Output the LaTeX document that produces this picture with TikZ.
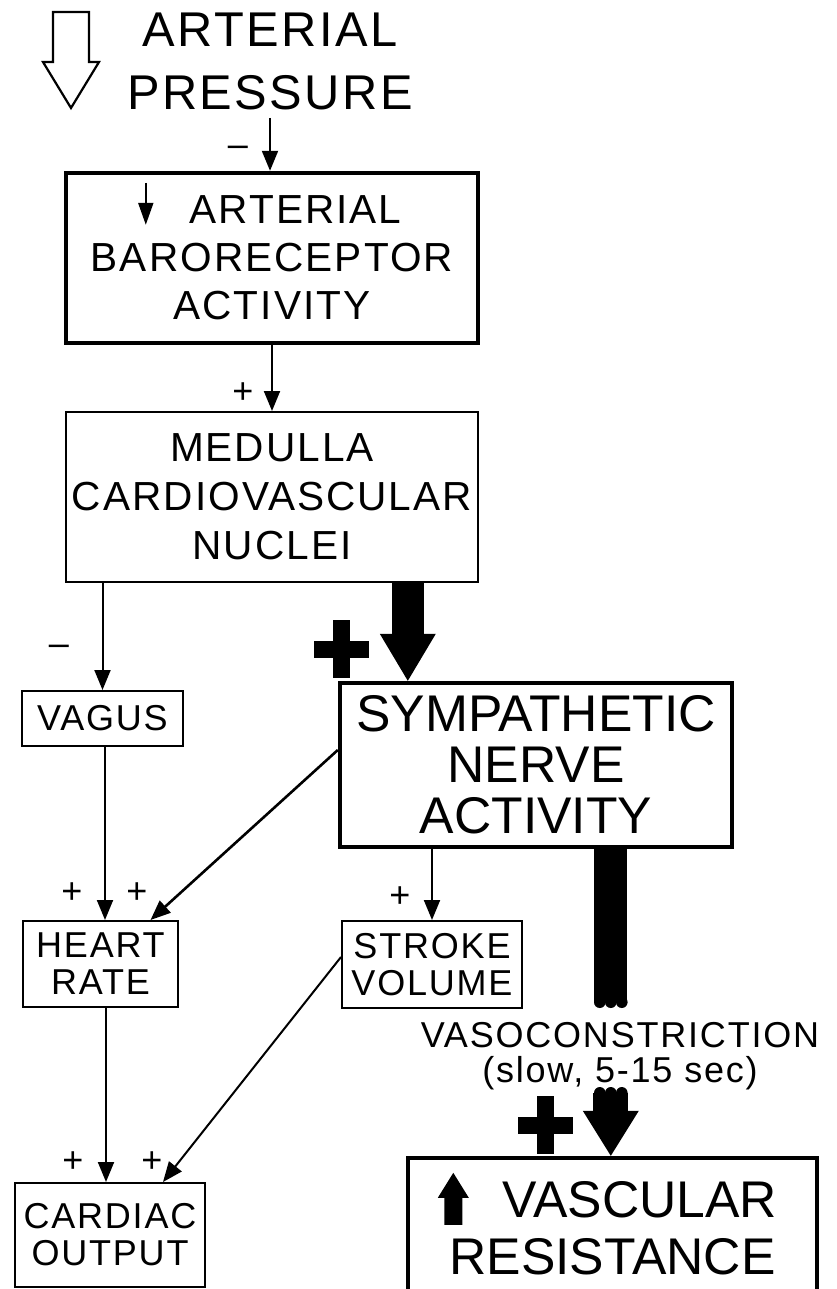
\documentclass[tikz,border=0pt]{standalone}
\usepackage{fontspec}
\setmainfont[LetterSpace=5]{Liberation Sans}
\newfontfamily\plainsans{Liberation Sans}
\usetikzlibrary{arrows.meta}

\begin{document}
\begin{tikzpicture}[x=0.5pt, y=-0.5pt,
    thinbox/.style={draw, line width=1pt, inner sep=0pt, align=center},
    thickbox/.style={draw, line width=2.2pt, inner sep=0pt, align=center},
    conn/.style={line width=1pt, -{Triangle[length=10pt,width=8pt]}},
    fat/.style={line width=16pt, -{Triangle[length=23.5pt,width=28pt,line width=0pt]}},
    fatlow/.style={line width=17.5pt, -{Triangle[length=22.5pt,width=28pt,line width=0pt]}},
    sign/.style={inner sep=0pt, font=\fontsize{18}{18.5}\selectfont},
    small/.style={font=\fontsize{18}{18.5}\selectfont},
    medium/.style={font=\fontsize{20.3}{24}\selectfont},
    large/.style={font=\plainsans\fontsize{25.8}{25.5}\selectfont},
    bigplus/.pic={\fill (-27.5,-8.5) rectangle (27.5,8.5); \fill (-8.5,-29) rectangle (8.5,29);}
]
    \useasboundingbox (0,0) rectangle (836,1289);

    % falling pressure
    \draw[line width=1.1pt, line join=miter] (53,12) -- (89,12) -- (89,62) -- (99,62) -- (71,108) -- (43,62) -- (53,62) -- cycle;
    \node[inner sep=4pt, align=center, font=\fontsize{24.4}{31.5}\selectfont] (press) at (270,61) {ARTERIAL\\PRESSURE};

    % Boxes
    \node[thickbox, medium, minimum width=206pt, minimum height=85pt] (baro) at (272,258) {\hspace*{23.5pt}ARTERIAL\\BARORECEPTOR\\ACTIVITY};
    \node[thinbox, medium, font=\fontsize{20.3}{24.5}\selectfont, minimum width=206pt, minimum height=85pt] (medulla) at (272,497) {MEDULLA\\CARDIOVASCULAR\\NUCLEI};
    \node[thinbox, small, minimum width=80.5pt, minimum height=27.5pt] (vagus) at (102.5,718.5) {VAGUS};
    \node[thickbox, large, minimum width=196pt, minimum height=82pt] (symp) at (536,765) {SYMPATHETIC\\NERVE\\ACTIVITY};
    \node[thinbox, small, minimum width=77.5pt, minimum height=43pt] (heart) at (100.5,964) {HEART\\RATE};
    \node[thinbox, small, minimum width=90pt, minimum height=43.5pt] (stroke) at (432,964.5) {STROKE\\VOLUME};
    \node[thinbox, small, minimum width=95pt, minimum height=52pt] (cardiac) at (110,1235) {CARDIAC\\OUTPUT};
    \node[thickbox, font=\plainsans\fontsize{25.8}{28.5}\selectfont, minimum width=204.5pt, minimum height=70pt] (vasc) at (612.5,1228) {\hspace*{27.5pt}VASCULAR\\RESISTANCE};
    \node[align=center, inner sep=0pt, font=\fontsize{18}{17.5}\selectfont] (vcon) at (620,1056) {VASOCONSTRICTION\\(slow, 5-15 sec)};

    % small arrows inside the boxes
    \draw[line width=1pt, -{Triangle[length=11pt,width=7.5pt]}] ([xshift=41pt,yshift=-6pt]baro.north west) -- ++(0,42);
    \fill[shift={(vasc.north west)}] (47.5,17) -- (63,42) -- (56.5,42) -- (56.5,69) -- (38.5,69) -- (38.5,42) -- (32,42) -- cycle;

    % Connections
    \coordinate (vagout) at ([xshift=1.25pt]vagus.south);
    \coordinate (hrout) at ([xshift=2.75pt]heart.south);
    \draw[conn] (press.south) -- (press.south |- baro.north);
    \draw[conn] (baro.south) -- (medulla.north);
    \draw[conn] (medulla.south -| vagus.north) -- (vagus.north);
    \draw[conn] (vagout) -- (vagout |- heart.north);
    \draw[conn, line width=1.3pt] ([yshift=7.5pt]symp.west) -- ([xshift=25pt]heart.north);
    \draw[conn] (symp.south -| stroke.north) -- (stroke.north);
    \draw[conn] (hrout) -- (hrout |- cardiac.north);
    \draw[conn] ([yshift=3.75pt]stroke.west) -- ([xshift=26.5pt]cardiac.north);

    % sympathetic outflow
    \coordinate (sympin) at ([xshift=35pt]symp.north west);
    \draw[fat] (medulla.south -| sympin) -- (sympin);

    % vasoconstriction, broken line
    \coordinate (vc) at ([xshift=136.5pt]symp.south west);
    \coordinate (vbreak) at ([yshift=-76.5pt]vc);
    \coordinate (vresume) at (vasc.north -| vc);
    \coordinate (vtop) at ([yshift=31.5pt]vresume);
    \draw[line width=16.5pt] (vc) -- (vbreak);
    \foreach \dx in {-11,0,11} \fill ([xshift=\dx*0.5pt]vbreak) circle[radius=2.9pt];
    \draw[fatlow] (vtop) -- (vresume);
    \foreach \dx in {-11,0,11} \fill ([xshift=\dx*0.5pt]vtop) circle[radius=2.9pt];

    % Labels
    \pic at (341,649) {bigplus};
    \pic at (545,1125) {bigplus};
    \node[sign] (m1) at (238,151) {\textendash};
    \node[sign] (p1) at (243,393) {+};
    \node[sign] (m2) at (59,650) {\textendash};
    \node[sign] (p2) at (72,893) {+};
    \node[sign] (p3) at (137,893) {+};
    \node[sign] (p4) at (400,897) {+};
    \node[sign] (p5) at (73,1162) {+};
    \node[sign] (p6) at (152,1162) {+};
\end{tikzpicture}
\end{document}
